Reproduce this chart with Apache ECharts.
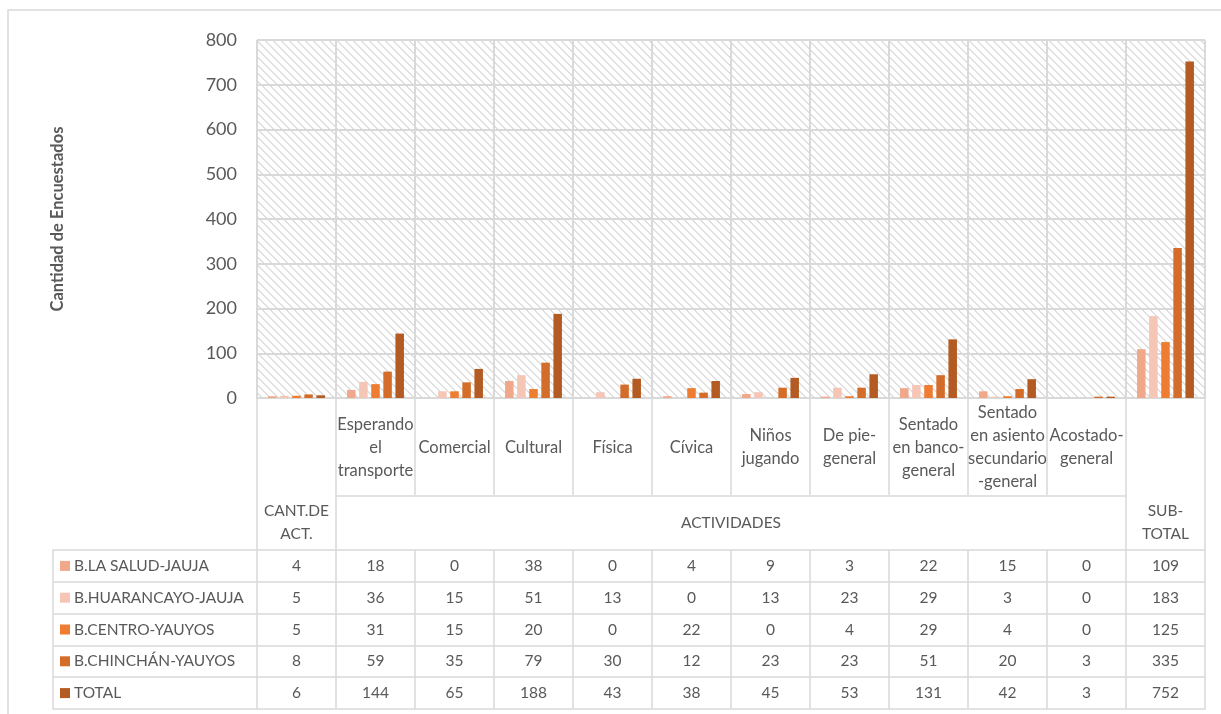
<!DOCTYPE html>
<html>
<head>
<meta charset="utf-8">
<script src="https://cdn.jsdelivr.net/npm/echarts@6/dist/echarts.min.js"></script>
<style>html,body{margin:0;padding:0;background:#fff;}#c{width:1221px;height:714px;}</style>
</head>
<body>
<div id="c"></div>
<script>
// ---------- DATA ----------
const categories = ['CANT.DE ACT.', 'Esperando el transporte', 'Comercial', 'Cultural', 'Física', 'Cívica', 'Niños jugando', 'De pie-general', 'Sentado en banco-general', 'Sentado en asiento secundario-general', 'Acostado-general', 'SUB-TOTAL'];
const categoryLabels = ['', 'Esperando\nel\ntransporte', 'Comercial', 'Cultural', 'Física', 'Cívica', 'Niños\njugando', 'De pie-\ngeneral', 'Sentado\nen banco-\ngeneral', 'Sentado\nen asiento\nsecundario\n-general', 'Acostado-\ngeneral', ''];
const groupLabels = ['CANT.DE\nACT.', '', '', '', '', 'ACTIVIDADES', '', '', '', '', '', 'SUB-\nTOTAL'];
const seriesNames = ['B.LA SALUD-JAUJA', 'B.HUARANCAYO-JAUJA', 'B.CENTRO-YAUYOS', 'B.CHINCHÁN-YAUYOS', 'TOTAL'];
const laSalud    = [4, 18, 0, 38, 0, 4, 9, 3, 22, 15, 0, 109];
const huarancayo = [5, 36, 15, 51, 13, 0, 13, 23, 29, 3, 0, 183];
const centro     = [5, 31, 15, 20, 0, 22, 0, 4, 29, 4, 0, 125];
const chinchan   = [8, 59, 35, 79, 30, 12, 23, 23, 51, 20, 3, 335];
const total      = [6, 144, 65, 188, 43, 38, 45, 53, 131, 42, 3, 752];
const yTicks = [0, 100, 200, 300, 400, 500, 600, 700, 800];
const seriesValues = [laSalud, huarancayo, centro, chinchan, total];
const colors = ['#F1A78A', '#F5C6B6', '#EE7D31', '#D46D2A', '#B35B22'];

// ---------- LAYOUT ----------
const FONT = 'Lato';
const TXT = '#595959';
const LINE = '#d9d9d9';
const G = { left: 257, right: 16, top: 40, height: 358 };
const W = 1221, H = 714;
const plotW = W - G.left - G.right;
const bandW = plotW / categories.length;
const catRowH = 97, groupRowH = 55, rowH = 31.8;
const tableTop = catRowH + groupRowH; // offset below x-axis

function makeHatch() {
  const c = document.createElement('canvas');
  c.width = 8; c.height = 8;
  const ctx = c.getContext('2d');
  ctx.fillStyle = '#ffffff'; ctx.fillRect(0, 0, 8, 8);
  ctx.fillStyle = '#dfdfdf';
  for (let y = 0; y < 8; y++) for (let x = 0; x < 8; x++) {
    if ((((x - y) % 8) + 8) % 8 < 2) ctx.fillRect(x, y, 1, 1);
  }
  return c;
}

const chart = echarts.init(document.getElementById('c'), null, { renderer: 'canvas' });

const baseCat = (extra) => Object.assign({
  type: 'category', gridIndex: 0, data: categories, position: 'bottom',
  boundaryGap: true, axisLine: { show: false }, axisTick: { show: false },
  axisLabel: { show: false }, splitLine: { show: false }
}, extra);

const xAxes = [];
// 0: main axis (zero line, vertical gridlines, category names)
xAxes.push(baseCat({
  axisLine: { show: true, lineStyle: { color: LINE, width: 2 } },
  axisTick: { show: true, interval: 0, length: catRowH, lineStyle: { color: LINE, width: 1.5 } },
  splitLine: { show: true, interval: 0, lineStyle: { color: LINE, width: 2 } },
  axisLabel: {
    show: true, interval: 0, margin: catRowH / 2 + 1, verticalAlign: 'middle',
    fontFamily: FONT, fontSize: 16.5, lineHeight: 23, color: TXT,
    formatter: (v, i) => categoryLabels[i]
  }
}));
// 1: long ticks through both header rows for merged columns
xAxes.push(baseCat({
  axisTick: { show: true, length: tableTop, lineStyle: { color: LINE, width: 1.5 },
    interval: (i) => i === 0 || i === 1 || i === categories.length - 1 }
}));
// 2: group labels row
xAxes.push(baseCat({
  offset: catRowH,
  axisLabel: {
    show: true, interval: 0, margin: groupRowH / 2, verticalAlign: 'middle',
    fontFamily: FONT, fontSize: 15.5, lineHeight: 23, color: TXT,
    formatter: (v, i) => groupLabels[i] === 'ACTIVIDADES' ? '{s|' + groupLabels[i] + '}' : groupLabels[i],
    rich: { s: { padding: [0, 0, 0, bandW], fontFamily: FONT, fontSize: 15.5, color: TXT } }
  }
}));
// 3..7: data table rows
seriesValues.forEach((arr, r) => {
  xAxes.push(baseCat({
    offset: tableTop + r * rowH,
    axisLine: { show: true, lineStyle: { color: LINE, width: 1.5 } },
    axisTick: { show: true, interval: 0, length: rowH, lineStyle: { color: LINE, width: 1.5 } },
    axisLabel: {
      show: true, interval: 0, margin: rowH / 2, verticalAlign: 'middle',
      fontFamily: FONT, fontSize: 15.5, color: TXT,
      formatter: (v, i) => String(arr[i])
    }
  }));
});
// 8: bottom line of the table
xAxes.push(baseCat({
  offset: tableTop + seriesValues.length * rowH,
  axisLine: { show: true, lineStyle: { color: LINE, width: 1.5 } }
}));
// 9: legend-column grid (hidden x)
xAxes.push({ type: 'value', gridIndex: 1, show: false });
// 10: header divider line across activities
xAxes.push({ type: 'category', gridIndex: 2, data: categories.slice(1, -1), axisLine: { show: true, lineStyle: { color: LINE, width: 1.5 } }, axisTick: { show: false }, axisLabel: { show: false } });

const richLegend = { t: { fontFamily: FONT, fontSize: 15.5, color: TXT, padding: [0, 0, 0, 4] } };
colors.forEach((c, i) => { richLegend['q' + i] = { width: 10, height: 10, backgroundColor: c }; });

const option = {
  animation: false,
  backgroundColor: '#ffffff',
  textStyle: { fontFamily: FONT },
  grid: [
    { left: G.left, right: G.right, top: G.top, height: G.height, show: true, borderWidth: 0,
      backgroundColor: { image: makeHatch(), repeat: 'repeat' } },
    { left: 53, width: G.left - 53, top: G.top + G.height + tableTop, height: rowH * seriesValues.length },
    { left: G.left + bandW, right: G.right + bandW, top: G.top + G.height + catRowH, height: 1 }
  ],
  xAxis: xAxes,
  yAxis: [
    { type: 'value', gridIndex: 0, min: yTicks[0], max: yTicks[yTicks.length - 1], interval: yTicks[1] - yTicks[0],
      axisLine: { show: false }, axisTick: { show: false },
      splitLine: { show: true, lineStyle: { color: LINE, width: 2 } },
      axisLabel: { fontFamily: FONT, fontSize: 18, color: TXT, margin: 20 },
      name: 'Cantidad de Encuestados', nameLocation: 'middle', nameGap: 191,
      nameTextStyle: { fontFamily: FONT, fontSize: 16.5, fontWeight: 'bold', color: TXT } },
    { type: 'category', gridIndex: 1, data: seriesNames, inverse: true,
      axisLine: { show: true, lineStyle: { color: LINE, width: 1.5 } }, axisTick: { show: false },
      splitLine: { show: true, interval: 0, lineStyle: { color: LINE, width: 1.5 } },
      axisLabel: { inside: true, interval: 0, margin: 7, align: 'left',
        formatter: (v, i) => '{q' + i + '|}{t|' + v + '}', rich: richLegend } },
    { type: 'value', gridIndex: 2, show: false }
  ],
  series: seriesNames.map((n, i) => ({
    name: n, type: 'bar', xAxisIndex: 0, yAxisIndex: 0, data: seriesValues[i],
    itemStyle: { color: colors[i] },
    barCategoryGap: '28%', barGap: '42%'
  })),
  graphic: [
    { type: 'rect', silent: true, z: -1, shape: { x: 8, y: 10, width: W + 20, height: H + 20 },
      style: { fill: null, stroke: LINE, lineWidth: 1.5 } }
  ]
};
chart.setOption(option);
</script>
</body>
</html>
